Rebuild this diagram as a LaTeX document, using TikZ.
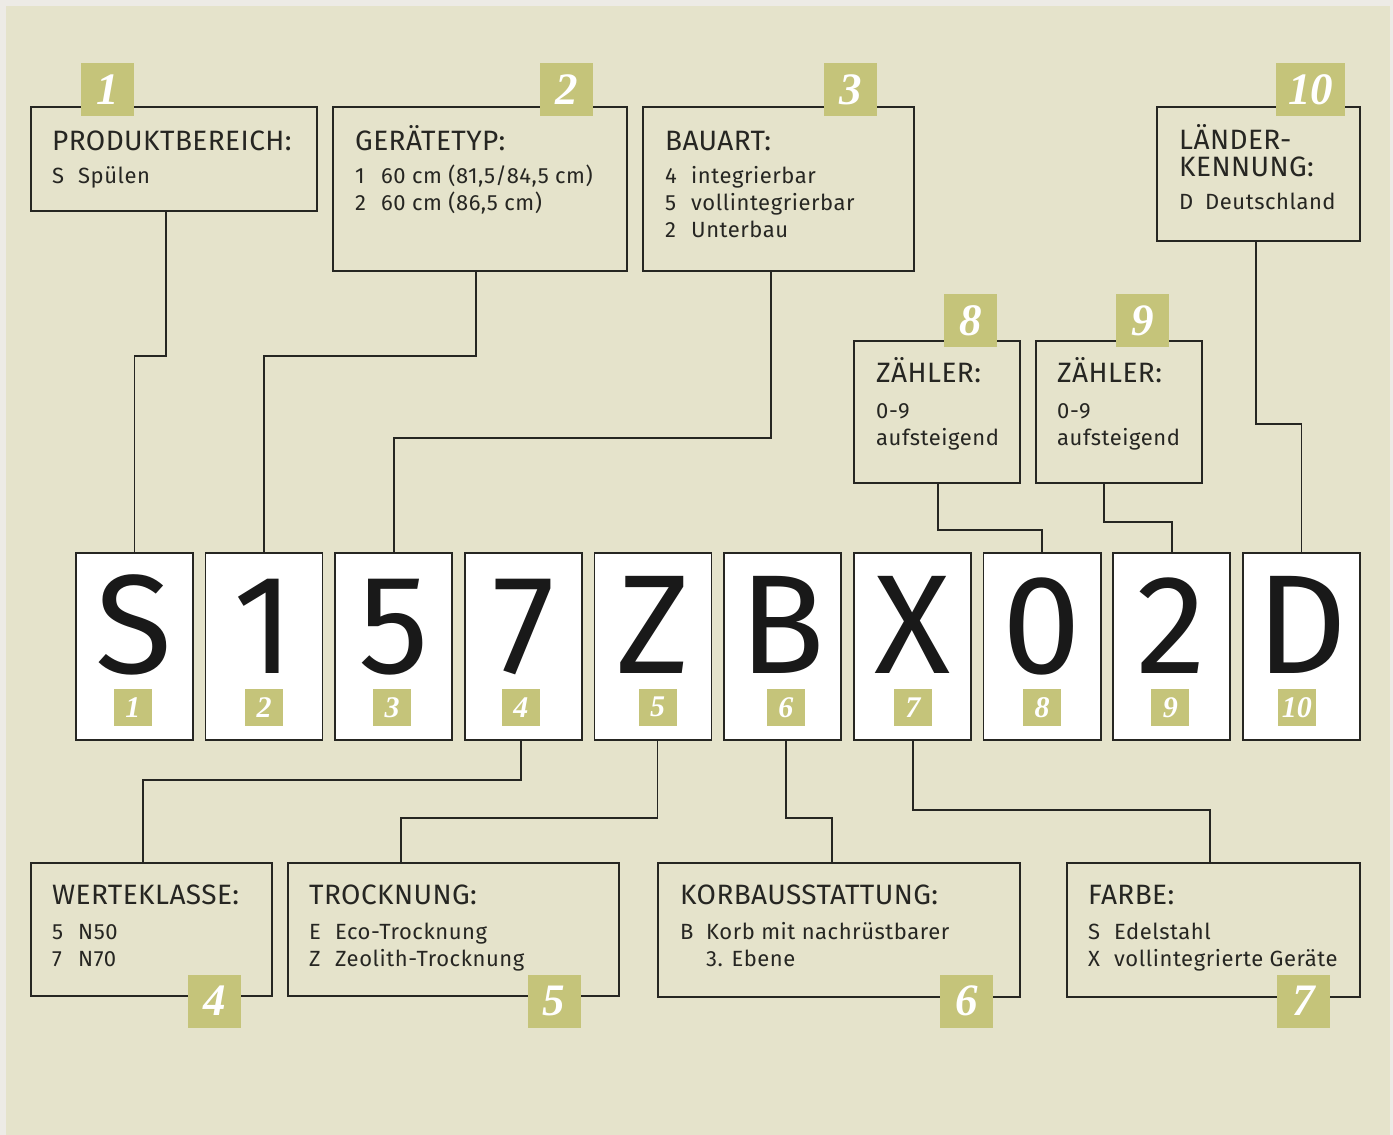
\documentclass[tikz,border=0pt]{standalone}
\usepackage{fontspec}
\setmainfont{Fira Sans}
\newfontfamily\numfont{Liberation Serif}
\newfontfamily\bodyfont[LetterSpace=2.5]{Fira Sans}
\newfontfamily\headfont[LetterSpace=1.5]{Fira Sans}
\usetikzlibrary{positioning}
\definecolor{panel}{RGB}{229,227,203}
\definecolor{paper}{RGB}{237,235,230}
\definecolor{olive}{RGB}{197,196,122}
\definecolor{ink}{RGB}{38,38,34}
\newcommand{\boxtitle}{\headfont\fontsize{28}{28}\selectfont}
\tikzset{
  infobox/.style={draw=ink, line width=1.8pt, anchor=north west, inner sep=0pt},
  charbox/.style={draw=ink, fill=white, line width=1.8pt, anchor=north west, inner sep=0pt,
    minimum width=117pt, minimum height=187pt},
  bigchar/.style={anchor=base, inner sep=0pt, text depth=0pt, text=black!90, font=\fontsize{141}{141}\selectfont},
  badge/.style={fill=olive, text=white, inner sep=0pt, minimum width=53pt, minimum height=53pt,
    font=\numfont\bfseries\itshape\fontsize{45}{45}\selectfont},
  smallbadge/.style={fill=olive, text=white, inner sep=0pt, minimum width=38pt, minimum height=37pt,
    font=\numfont\bfseries\itshape\fontsize{30}{30}\selectfont},
  boxtext/.style={anchor=base west, inner sep=0pt, text=ink, font=\bodyfont\fontsize{22}{27}\selectfont},
  link/.style={draw=ink, line width=1.8pt}
}
\begin{document}
\begin{tikzpicture}[x=1pt, y=-1pt]
\fill[paper] (0,0) rectangle (1393,1135);
\fill[panel] (6,6) rectangle (1390,1135);

% boxes above the code
\node[infobox, minimum width=286pt, minimum height=104pt] (prod) at (30,106) {};
\node[infobox, minimum width=294pt, minimum height=164pt] (typ) at (332,106) {};
\node[infobox, minimum width=271pt, minimum height=164pt] (bau) at (642,106) {};
\node[infobox, minimum width=203pt, minimum height=134pt] (land) at (1156,106) {};
\node[infobox, minimum width=166pt, minimum height=142pt] (zaehlA) at (853,340) {};
\node[infobox, minimum width=166pt, minimum height=142pt] (zaehlB) at (1035,340) {};

% boxes below the code
\node[infobox, minimum width=241pt, minimum height=133pt] (wert) at (30,862) {};
\node[infobox, minimum width=331pt, minimum height=133pt] (trock) at (287,862) {};
\node[infobox, minimum width=362pt, minimum height=134pt] (korb) at (657,862) {};
\node[infobox, minimum width=293pt, minimum height=134pt] (farbe) at (1066,862) {};

% the code itself
\foreach \ch/\dx [count=\i] in {S/-1.5, 1/0, 5/-1.5, 7/-2.5, Z/4.5, B/3, X/0.5, 0/0, 2/-1.5, D/-4.5} {
  \node[charbox] (c\i) at ({75+129.67*(\i-1)},552) {};
  \node[bigchar] (l\i) at ([yshift=67pt]c\i.south) {\ch};
  \node[smallbadge] (b\i) at ([xshift=\dx pt, yshift=33.5pt]c\i.south) {\i};
}

% connectors
\draw[link] ([xshift=-8pt]prod.south) -- ++(0,144) -| (c1.north);
\draw[link] ([xshift=-4pt]typ.south) -- ++(0,84) -| (c2.north);
\draw[link] ([xshift=-7.5pt]bau.south) -- ++(0,166) -| (c3.north);
\draw[link] ([xshift=-2.5pt]land.south) -- ++(0,182) -| (c10.north);
\draw[link] ([xshift=1pt]zaehlA.south) -- ++(0,46) -| (c8.north);
\draw[link] ([xshift=-15pt]zaehlB.south) -- ++(0,38) -| (c9.north);
\draw[link] (c4.south -| b4) -- ++(0,39) -| ([xshift=-8.5pt]wert.north);
\draw[link] (c5.south -| b5) -- ++(0,77) -| ([xshift=-52.5pt]trock.north);
\draw[link] (c6.south -| b6) -- ++(0,77) -| ([xshift=-7pt]korb.north);
\draw[link] (c7.south -| b7) -- ++(0,69) -| ([xshift=-3.5pt]farbe.north);

% numbers
\node[badge] (n1) at (107.5,89.5) {1};
\node[badge] (n2) at (566.5,89.5) {2};
\node[badge] (n3) at (850.5,89.5) {3};
\node[badge, minimum width=69pt] (n10) at (1310.5,89.5) {10};
\node[badge] (n8) at (970.5,320.5) {8};
\node[badge] (n9) at (1142.5,320.5) {9};
\node[badge] (n4) at (214.5,1001) {4};
\node[badge] (n5) at (554,1001) {5};
\node[badge] (n6) at (966.5,1001) {6};
\node[badge] (n7) at (1303.5,1001) {7};

% texts
\node[boxtext] (prodtxt) at (52,150) {\begin{tabular}[t]{@{}p{26pt}@{}l@{}}
\multicolumn{2}{@{}l@{}}{\boxtitle PRODUKTBEREICH:}\\[6pt]
S & Spülen
\end{tabular}};
\node[boxtext] (typtxt) at (355,150) {\begin{tabular}[t]{@{}p{26pt}@{}l@{}}
\multicolumn{2}{@{}l@{}}{\boxtitle GERÄTETYP:}\\[6pt]
1 & 60 cm (81,5/84,5 cm)\\
2 & 60 cm (86,5 cm)
\end{tabular}};
\node[boxtext] (bautxt) at (665,150) {\begin{tabular}[t]{@{}p{26pt}@{}l@{}}
\multicolumn{2}{@{}l@{}}{\boxtitle BAUART:}\\[6pt]
4 & integrierbar\\
5 & vollintegrierbar\\
2 & Unterbau
\end{tabular}};
\node[boxtext] (landtxt) at (1179,149) {\begin{tabular}[t]{@{}p{26pt}@{}l@{}}
\multicolumn{2}{@{}l@{}}{\boxtitle LÄNDER-}\\
\multicolumn{2}{@{}l@{}}{\boxtitle KENNUNG:}\\[6pt]
D & Deutschland
\end{tabular}};
\node[boxtext] (zaehlAtxt) at (876,382) {\begin{tabular}[t]{@{}l@{}}
{\boxtitle ZÄHLER:}\\[9pt]
0-9\\
aufsteigend
\end{tabular}};
\node[boxtext] (zaehlBtxt) at (1057,382) {\begin{tabular}[t]{@{}l@{}}
{\boxtitle ZÄHLER:}\\[9pt]
0-9\\
aufsteigend
\end{tabular}};
\node[boxtext] (werttxt) at (52,904) {\begin{tabular}[t]{@{}p{26pt}@{}l@{}}
\multicolumn{2}{@{}l@{}}{\boxtitle WERTEKLASSE:}\\[8pt]
5 & N50\\
7 & N70
\end{tabular}};
\node[boxtext] (trocktxt) at (309,904) {\begin{tabular}[t]{@{}p{26pt}@{}l@{}}
\multicolumn{2}{@{}l@{}}{\boxtitle TROCKNUNG:}\\[8pt]
E & Eco-Trocknung\\
Z & Zeolith-Trocknung
\end{tabular}};
\node[boxtext] (korbtxt) at (680,904) {\begin{tabular}[t]{@{}p{26pt}@{}l@{}}
\multicolumn{2}{@{}l@{}}{\boxtitle KORBAUSSTATTUNG:}\\[8pt]
B & Korb mit nachrüstbarer\\
  & 3. Ebene
\end{tabular}};
\node[boxtext] (farbetxt) at (1088,904) {\begin{tabular}[t]{@{}p{26pt}@{}l@{}}
\multicolumn{2}{@{}l@{}}{\boxtitle FARBE:}\\[8pt]
S & Edelstahl\\
X & vollintegrierte Geräte
\end{tabular}};
\end{tikzpicture}
\end{document}
